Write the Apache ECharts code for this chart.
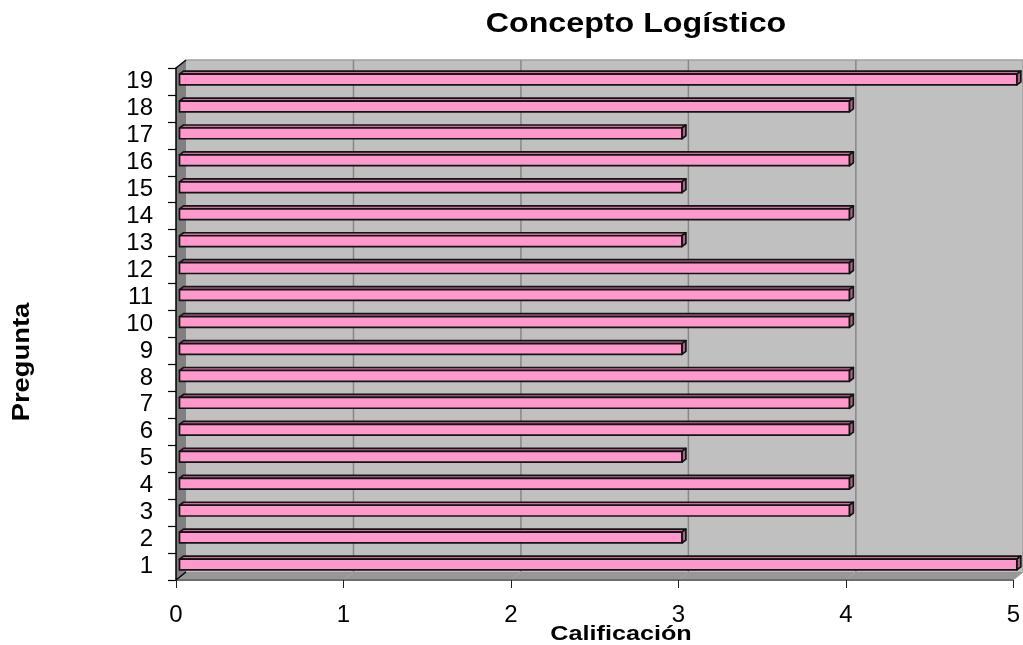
<!DOCTYPE html>
<html>
<head>
<meta charset="utf-8">
<title>Concepto Logístico</title>
<script src="https://cdn.jsdelivr.net/npm/echarts@6/dist/echarts.min.js"></script>
<style>
  html, body { margin: 0; padding: 0; background: #fff; }
  #chart { width: 1023px; height: 645px; }
</style>
</head>
<body>
<div id="chart"></div>
<script>
// Question numbers on the category axis (bottom to top)
const preguntas = ['1','2','3','4','5','6','7','8','9','10','11','12','13','14','15','16','17','18','19'];
// Score given to each question
const calificacion = [5, 3, 4, 4, 3, 4, 4, 4, 3, 4, 4, 4, 3, 4, 3, 4, 3, 4, 5];
// Score axis range
const escalaMin = 0;
const escalaMax = 5;
const escalaPaso = 1;

const FONT = '"Liberation Sans", Arial, sans-serif';

// Depth of the 3D box (back wall offset from the front plane)
const WALL_DX = 10, WALL_DY = -8;
// Bars sit a little behind the front plane and have their own depth
const BAR_DX = 3.5, BAR_DY = -2;
const BAR_DEPTH_X = 4, BAR_DEPTH_Y = -3;

const chart = echarts.init(document.getElementById('chart'), null, { renderer: 'canvas' });

// Back wall, side wall, floor and wall gridlines of the 3D frame
function renderFrame(params, api) {
  const cs = params.coordSys;
  const left = cs.x, top = cs.y, right = cs.x + cs.width, bottom = cs.y + cs.height;
  const children = [];
  // back wall
  children.push({
    type: 'rect',
    shape: { x: left + WALL_DX, y: top + WALL_DY, width: cs.width, height: cs.height },
    style: { fill: '#c0c0c0', stroke: null }
  });
  // top edge of back wall
  children.push({
    type: 'line',
    shape: { x1: left + WALL_DX, y1: top + WALL_DY, x2: right + WALL_DX, y2: top + WALL_DY },
    style: { stroke: '#a0a0a0', lineWidth: 1.5 }
  });
  // side wall
  children.push({
    type: 'polygon',
    shape: { points: [[left, top], [left + WALL_DX, top + WALL_DY], [left + WALL_DX, bottom + WALL_DY], [left, bottom]] },
    style: { fill: '#808080', stroke: null }
  });
  // floor
  children.push({
    type: 'polygon',
    shape: { points: [[left, bottom], [left + WALL_DX, bottom + WALL_DY], [right + WALL_DX, bottom + WALL_DY], [right, bottom]] },
    style: { fill: '#979797', stroke: null }
  });
  // wall gridlines and their traces on the floor
  for (let v = escalaMin + escalaPaso; v <= escalaMax; v += escalaPaso) {
    const x = api.coord([v, 0])[0];
    children.push({
      type: 'line',
      shape: { x1: x + WALL_DX, y1: top + WALL_DY, x2: x + WALL_DX, y2: bottom + WALL_DY },
      style: { stroke: '#878787', lineWidth: 1.5 }
    });
    children.push({
      type: 'line',
      shape: { x1: x, y1: bottom, x2: x + WALL_DX, y2: bottom + WALL_DY },
      style: { stroke: '#a8a8a8', lineWidth: 1 }
    });
  }
  // front edge of the floor
  children.push({
    type: 'line',
    shape: { x1: left, y1: bottom, x2: right, y2: bottom },
    style: { stroke: '#6e6e6e', lineWidth: 2 }
  });
  // dark corner edges of the side wall
  children.push({
    type: 'line',
    shape: { x1: left, y1: top, x2: left + WALL_DX, y2: top + WALL_DY },
    style: { stroke: '#000', lineWidth: 1.5 }
  });
  children.push({
    type: 'line',
    shape: { x1: left, y1: bottom, x2: left + WALL_DX, y2: bottom + WALL_DY },
    style: { stroke: '#000', lineWidth: 1.5 }
  });
  return { type: 'group', children: children };
}

// 3D horizontal bar: front face, top face, end face
function renderBar(params, api) {
  const value = api.value(0);
  const cat = api.value(1);
  const start = api.coord([escalaMin, cat]);
  const end = api.coord([value, cat]);
  const band = api.size([0, 1])[1];
  const h = band * 0.4;
  const x0 = start[0] + BAR_DX;
  const x1 = end[0] + BAR_DX;
  const yTop = end[1] + BAR_DY - h / 2;
  const yBot = yTop + h;
  const outline = { stroke: '#141414', lineWidth: 1.7, lineJoin: 'round' };
  return {
    type: 'group',
    children: [
      {
        type: 'polygon',
        shape: { points: [[x0, yTop], [x0 + BAR_DEPTH_X, yTop + BAR_DEPTH_Y], [x1 + BAR_DEPTH_X, yTop + BAR_DEPTH_Y], [x1, yTop]] },
        style: Object.assign({ fill: '#c9709c' }, outline)
      },
      {
        type: 'polygon',
        shape: { points: [[x1, yTop], [x1 + BAR_DEPTH_X, yTop + BAR_DEPTH_Y], [x1 + BAR_DEPTH_X, yBot + BAR_DEPTH_Y], [x1, yBot]] },
        style: Object.assign({ fill: '#b5608a' }, outline)
      },
      {
        type: 'rect',
        shape: { x: x0, y: yTop, width: x1 - x0, height: h },
        style: Object.assign({ fill: '#ff99cc' }, outline)
      }
    ]
  };
}

const option = {
  backgroundColor: '#ffffff',
  animation: false,
  grid: { left: 176, right: 8, top: 68, bottom: 65 },
  xAxis: {
    type: 'value',
    min: escalaMin,
    max: escalaMax,
    interval: escalaPaso,
    axisLine: { show: false },
    axisTick: { show: true, length: 8, lineStyle: { color: '#222', width: 1 } },
    splitLine: { show: false },
    axisLabel: { fontFamily: FONT, fontSize: 24, color: '#000', margin: 23 }
  },
  yAxis: {
    type: 'category',
    data: preguntas,
    boundaryGap: true,
    axisLine: { show: true, lineStyle: { color: '#000', width: 1.5 } },
    axisTick: { show: true, length: 8, interval: 0, lineStyle: { color: '#000', width: 1.2 } },
    splitLine: { show: false },
    axisLabel: { fontFamily: FONT, fontSize: 24, color: '#000', margin: 23, interval: 0 }
  },
  graphic: [
    {
      type: 'text',
      x: 636, y: 24,
      scaleX: 1.15,
      style: { text: 'Concepto Logístico', font: 'bold 28px ' + FONT, fill: '#000', align: 'center', verticalAlign: 'middle' }
    },
    {
      type: 'text',
      x: 621, y: 634,
      scaleX: 1.2,
      style: { text: 'Calificación', font: 'bold 21px ' + FONT, fill: '#000', align: 'center', verticalAlign: 'middle' }
    },
    {
      type: 'text',
      x: 23, y: 362,
      rotation: Math.PI / 2,
      scaleX: 1.19,
      style: { text: 'Pregunta', font: 'bold 23px ' + FONT, fill: '#000', align: 'center', verticalAlign: 'middle' }
    }
  ],
  series: [
    {
      type: 'custom',
      name: 'marco',
      coordinateSystem: 'cartesian2d',
      renderItem: renderFrame,
      data: [[escalaMin, 0]],
      clip: false,
      silent: true,
      z: 0
    },
    {
      type: 'custom',
      name: 'Calificación',
      coordinateSystem: 'cartesian2d',
      renderItem: renderBar,
      encode: { x: 0, y: 1 },
      data: calificacion.map((v, i) => [v, i]),
      clip: false,
      z: 2
    }
  ]
};

chart.setOption(option);
</script>
</body>
</html>
